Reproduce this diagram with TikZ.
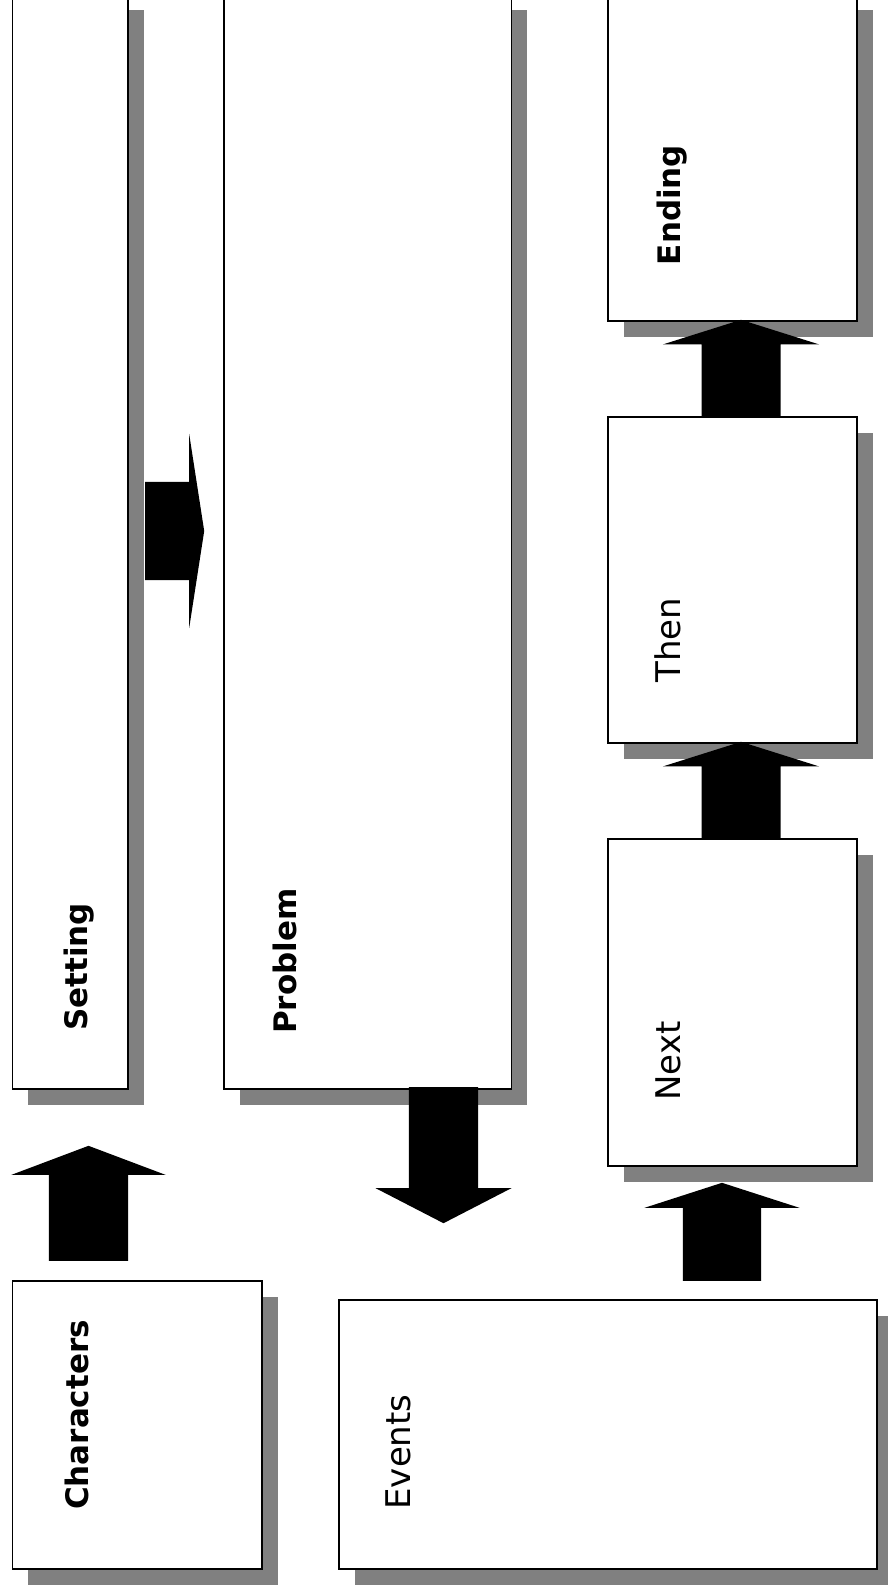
\documentclass[tikz,border=0pt]{standalone}
\usepackage{fontspec}
\setmainfont{DejaVu Sans}
\usetikzlibrary{shapes.arrows,shadows}

\tikzset{
  panel/.style={draw, line width=1.5pt, fill=white, inner sep=0pt, anchor=north west,
    drop shadow={shadow xshift=16pt, shadow yshift=-16pt, fill=black!50, opacity=1}},
  boldlabel/.style={rotate=90, anchor=base, font=\fontsize{31}{31}\selectfont\bfseries},
  plainlabel/.style={rotate=90, anchor=base, font=\fontsize{34}{34}\selectfont},
  blockarrow/.style={single arrow, fill=black, inner xsep=0pt, single arrow head indent=0pt, anchor=tail}
}

\begin{document}
\begin{tikzpicture}[x=1pt, y=-1pt]
\useasboundingbox (0,0) rectangle (887,1592);
% panels: name/left/top/width/height
\foreach \name/\x/\y/\w/\h in {setting/11.5/-7/115.5/1095, problem/223/-7/287.5/1095,
    ending/607/-7/249/327, then/607/416/249/326, next/607/838/249/327,
    chars/11.5/1280/249.5/288, events/338/1299/538/269}
  \node[panel, minimum width=\w, minimum height=\h] (\name) at (\x,\y) {};
% titles, read bottom to top
\foreach \name/\x/\y/\style/\text in {chars/88/1415/boldlabel/Characters, setting/87/967/boldlabel/Setting,
    problem/296/961/boldlabel/Problem, events/410/1452/plainlabel/Events, next/680/1061/plainlabel/Next,
    then/680/640/plainlabel/Then, ending/680/205/boldlabel/Ending}
  \node[\style] (\name-title) at (\x,\y) {\text};
% block arrows: name/tail x/tail y/rotation/length/half shaft/head extend/tip angle
\foreach \name/\x/\y/\r/\len/\sh/\ext/\ang in {to-setting/88.5/1261/90/115/39.5/37.5/138.7,
    to-problem/145/531/0/59/49/48/162.4, to-events/443.5/1087/-90/136/34.5/33.5/125.4,
    to-next/722/1281/90/98/39/38.5/144.2, to-then/741/838/90/96/39.3/38.7/145,
    to-ending/741/416/90/96/39.3/38.7/145}
  \node[blockarrow, rotate=\r, minimum height=\len, inner ysep=\sh,
    single arrow head extend=\ext, single arrow tip angle=\ang] (\name) at (\x,\y) {};
\end{tikzpicture}
\end{document}
